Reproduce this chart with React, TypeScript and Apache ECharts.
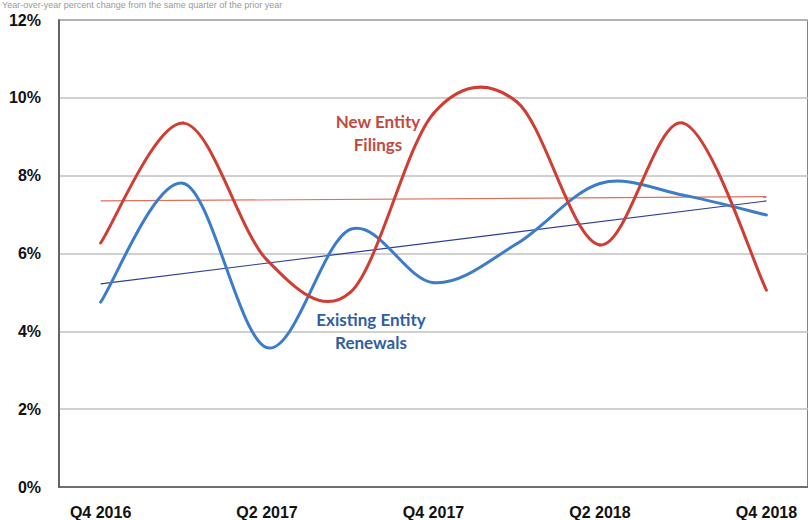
import React, { useEffect, useRef } from "react";
import * as echarts from "echarts";

const quarters = ["Q4 2016", "Q1 2017", "Q2 2017", "Q3 2017", "Q4 2017", "Q1 2018", "Q2 2018", "Q3 2018", "Q4 2018"];
const newEntityFilings = [6.27, 9.35, 5.83, 5.0, 9.6, 9.9, 6.22, 9.35, 5.06];
const existingEntityRenewals = [4.75, 7.8, 3.58, 6.62, 5.25, 6.25, 7.8, 7.5, 6.99];
const newEntityTrend = [7.35, null, null, null, null, null, null, null, 7.46];
const renewalsTrend = [5.22, null, null, null, null, null, null, null, 7.35];
const yTicks = [0, 2, 4, 6, 8, 10, 12];

// Excel-like smoothed line: one cubic segment per data item, drawn through the axes' scales
function smoothSeries(name: string, values: number[], color: string, z: number) {
  return {
    name,
    type: "custom",
    z,
    data: values.map((v, i) => [i, v]),
    encode: { x: 0, y: 1 },
    renderItem: (params: any, api: any) => {
      const i = params.dataIndex;
      if (i >= values.length - 1) return null;
      const pt = (k: number) => {
        const kk = Math.max(0, Math.min(values.length - 1, k));
        return api.coord([kk, values[kk]]);
      };
      const p0 = pt(i - 1);
      const p1 = pt(i);
      const p2 = pt(i + 1);
      const p3 = pt(i + 2);
      const c1 = [p1[0] + (p2[0] - p0[0]) / 6, p1[1] + (p2[1] - p0[1]) / 6];
      const c2 = [p2[0] - (p3[0] - p1[0]) / 6, p2[1] - (p3[1] - p1[1]) / 6];
      const d = `M${p1[0]},${p1[1]} C${c1[0]},${c1[1]} ${c2[0]},${c2[1]} ${p2[0]},${p2[1]}`;
      return {
        type: "path",
        shape: { pathData: d },
        style: { stroke: color, lineWidth: 3, fill: "none", lineCap: "round", lineJoin: "round" },
      };
    },
  };
}

export default function App() {
  const ref = useRef<HTMLDivElement>(null);
  useEffect(() => {
    if (!ref.current) return;
    const chart = echarts.init(ref.current, null, { renderer: "svg" });
    chart.setOption({
      animation: false,
      backgroundColor: "#ffffff",
      grid: {
        left: 59,
        top: 20,
        width: 756,
        height: 467,
        show: true,
        borderColor: "#5a5a5a",
        borderWidth: 1.5,
        containLabel: false,
      },
      xAxis: {
        type: "category",
        data: quarters,
        boundaryGap: true,
        axisLine: { show: true, lineStyle: { color: "#5a5a5a", width: 1.5 } },
        axisTick: { show: false },
        axisLabel: {
          interval: 1,
          margin: 17,
          color: "#111",
          fontFamily: "Liberation Sans, Arial, sans-serif",
          fontWeight: "bold",
          fontSize: 16,
        },
        splitLine: { show: false },
      },
      yAxis: {
        type: "value",
        min: yTicks[0],
        max: yTicks[yTicks.length - 1],
        interval: 2,
        axisLine: { show: true, lineStyle: { color: "#5a5a5a", width: 1.5 } },
        axisTick: { show: false },
        axisLabel: {
          margin: 18,
          color: "#111",
          fontFamily: "Liberation Sans, Arial, sans-serif",
          fontWeight: "bold",
          fontSize: 16,
          formatter: (v: number) => `${v}%`,
        },
        splitLine: { show: true, lineStyle: { color: "#c0c0c0", width: 1.5 } },
      },
      graphic: [
        {
          type: "text",
          left: 2,
          top: 0,
          style: {
            text: "Year-over-year percent change from the same quarter of the prior year",
            fill: "#9a9a9a",
            font: "9px Liberation Sans, Arial, sans-serif",
          },
        },
        {
          type: "text",
          x: 378,
          y: 133,
          style: {
            text: "New Entity\nFilings",
            fill: "#c14a40",
            font: "bold 17px Lato, 'Open Sans', sans-serif",
            textAlign: "center",
            textVerticalAlign: "middle",
            lineHeight: 23,
          },
        },
        {
          type: "text",
          x: 371,
          y: 331,
          style: {
            text: "Existing Entity\nRenewals",
            fill: "#2f5ea3",
            font: "bold 17px Lato, 'Open Sans', sans-serif",
            textAlign: "center",
            textVerticalAlign: "middle",
            lineHeight: 23,
          },
        },
      ],
      series: [
        {
          name: "New Entity Trend",
          type: "line",
          data: newEntityTrend,
          connectNulls: true,
          showSymbol: false,
          lineStyle: { color: "#e0705e", width: 1.2 },
          z: 2,
        },
        {
          name: "Renewals Trend",
          type: "line",
          data: renewalsTrend,
          connectNulls: true,
          showSymbol: false,
          lineStyle: { color: "#2a3f8f", width: 1.2 },
          z: 2,
        },
        smoothSeries("Existing Entity Renewals", existingEntityRenewals, "#3c7cc8", 3),
        smoothSeries("New Entity Filings", newEntityFilings, "#cf3d33", 4),
      ],
    });
    return () => chart.dispose();
  }, []);
  return (
    <div
      ref={ref}
      style={{ position: "absolute", left: 0, top: 0, width: 808, height: 520 }}
    />
  );
}
